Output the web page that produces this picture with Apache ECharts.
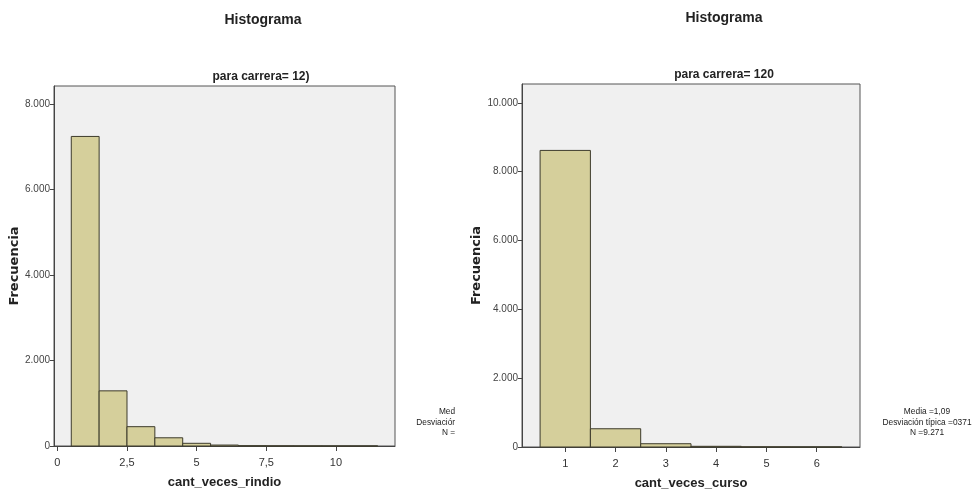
<!DOCTYPE html>
<html><head><meta charset="utf-8">
<script src="https://cdn.jsdelivr.net/npm/echarts@6/dist/echarts.min.js"></script>
<style>html,body{margin:0;padding:0;background:#fff}#c{width:974px;height:495px}</style>
</head><body><div id="c"></div>
<script>
// Data
const rindioBins = [1, 2, 3, 4, 5, 6, 7, 8, 9, 10, 11];
const rindioCounts = [7240, 1290, 452, 192, 63, 22, 6, 3, 2, 1, 1];
const cursoBins = [1, 2, 3, 4, 5, 6];
const cursoCounts = [8620, 530, 95, 20, 4, 2];
const rindioTicks = [0, 2.5, 5, 7.5, 10];
const cursoTicks = [1, 2, 3, 4, 5, 6];
const leftStats = ['Med', 'Desviaciór', 'N ='];
const rightStats = ['Media =1,09', 'Desviación típica =0371', 'N =9.271'];

const SANS = '"Liberation Sans",Arial,sans-serif';
const BAR_FILL = '#d5cf9b', BAR_STROKE = '#3d3b2b';

function fmtNum(v) {
  return String(v).replace('.', ',');
}
function fmtThousands(v) {
  return String(v).replace(/\B(?=(\d{3})+(?!\d))/g, '.');
}
function renderBin(params, api) {
  const x = api.value(0), y = api.value(1);
  const p0 = api.coord([x - 0.5, y]);
  const p1 = api.coord([x + 0.5, 0]);
  return {
    type: 'rect',
    shape: { x: p0[0], y: p0[1], width: p1[0] - p0[0], height: p1[1] - p0[1] },
    style: { fill: BAR_FILL, stroke: BAR_STROKE, lineWidth: 1 }
  };
}
function xAxisCfg(gridIndex, min, max, ticks, name) {
  return {
    type: 'value', gridIndex, min, max,
    name, nameLocation: 'middle', nameGap: 30,
    nameTextStyle: { fontFamily: SANS, fontWeight: 'bold', fontSize: 13, color: '#222' },
    axisLine: { show: true, onZero: false, lineStyle: { color: '#444', width: 1 } },
    axisTick: { show: true, customValues: ticks, length: 5, lineStyle: { color: '#444' } },
    axisLabel: { customValues: ticks, formatter: v => fmtNum(v), fontFamily: SANS, fontSize: 11, color: '#333', margin: 11 },
    splitLine: { show: false }
  };
}
function yAxisCfg(gridIndex, max, nameGap) {
  return {
    type: 'value', gridIndex, min: 0, max, interval: 2000,
    name: 'Frecuencia', nameLocation: 'middle', nameGap, nameRotate: 90,
    nameTextStyle: { fontFamily: '"DejaVu Sans",sans-serif', fontWeight: 'bold', fontSize: 13, color: '#222' },
    axisLine: { show: true, onZero: false, lineStyle: { color: '#444', width: 1 } },
    axisTick: { show: true, length: 4, lineStyle: { color: '#444' } },
    axisLabel: { formatter: v => (v % 2000 !== 0) ? '' : fmtThousands(v), fontFamily: SANS, fontSize: 10, color: '#444', margin: 4, showMaxLabel: false },
    splitLine: { show: false }
  };
}

const chart = echarts.init(document.getElementById('c'));
const gText = (x, y, text, size, weight, align, sx) => ({
  type: 'text', x, y, scaleX: sx || 1,
  style: { text, fontFamily: SANS, fontSize: size, fontWeight: weight, fill: '#222', align, verticalAlign: 'middle' }
});
const graphics = [
  gText(263, 20, 'Histograma', 14, 'bold', 'center'),
  gText(724, 18, 'Histograma', 14, 'bold', 'center'),
  gText(261, 77, 'para carrera= 12)', 12, 'bold', 'center'),
  gText(724, 75, 'para carrera= 120', 12, 'bold', 'center')
];
leftStats.forEach((t, i) => graphics.push(gText(455, 412 + i * 10.5, t, 9, 'normal', 'right', 0.92)));
rightStats.forEach((t, i) => graphics.push(gText(927, 412 + i * 10.5, t, 9, 'normal', 'center', 0.93)));

chart.setOption({
  animation: false,
  grid: [
    { left: 54, top: 86, width: 341, height: 360, show: true, backgroundColor: '#f0f0f0', borderColor: '#555', borderWidth: 1 },
    { left: 522, top: 84, width: 338, height: 365, show: true, backgroundColor: '#f0f0f0', borderColor: '#555', borderWidth: 1 }
  ],
  xAxis: [
    xAxisCfg(0, -0.12, 12.12, rindioTicks, 'cant_veces_rindio'),
    xAxisCfg(1, 0.14, 6.86, cursoTicks, 'cant_veces_curso')
  ],
  yAxis: [
    yAxisCfg(0, 8420, 31),
    yAxisCfg(1, 10550, 38)
  ],
  series: [
    { type: 'custom', xAxisIndex: 0, yAxisIndex: 0, renderItem: renderBin,
      data: rindioBins.map((b, i) => [b, rindioCounts[i]]) },
    { type: 'custom', xAxisIndex: 1, yAxisIndex: 1, renderItem: renderBin,
      data: cursoBins.map((b, i) => [b, cursoCounts[i]]) }
  ],
  graphic: graphics
});
</script></body></html>
